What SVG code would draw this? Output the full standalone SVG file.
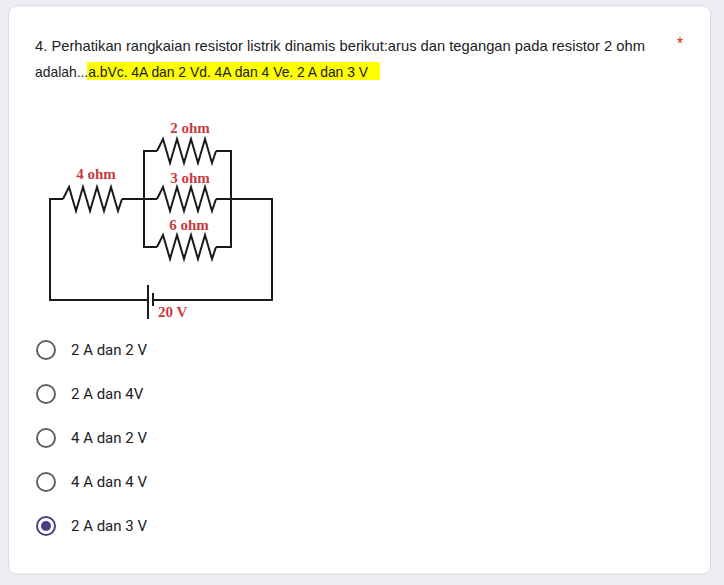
<svg xmlns="http://www.w3.org/2000/svg" xmlns:xlink="http://www.w3.org/1999/xlink" width="724" height="585" viewBox="0 0 724 585">
<style>
.q{font-family:"Liberation Sans",Arial,sans-serif;font-size:14.5px;fill:#202124}
.opt{font-family:Roboto,"Liberation Sans",sans-serif;font-size:15px;fill:#202124}
.lbl{font-family:"Liberation Serif","Times New Roman",serif;font-weight:bold;font-size:15px;fill:#c73a40}
.w{fill:none;stroke:#1a1a1a;stroke-width:2;stroke-linejoin:miter}
.radio{fill:none;stroke:#5f6368;stroke-width:2}
</style>
<defs>
<path id="zz" d="M0,0 l6,-12 l7,24 l7,-24 l7,24 l7,-24 l7,24 l7,-24 l7,24 l4,-12" class="w"/>
</defs>
<rect x="0" y="0" width="724" height="585" fill="#eeecf3"/>
<rect x="8.5" y="6" width="702" height="568" rx="8" fill="#ffffff" stroke="#dadce0" stroke-width="1"/>

<g id="question">
<text class="q" x="35" y="51" textLength="610" lengthAdjust="spacingAndGlyphs">4. Perhatikan rangkaian resistor listrik dinamis berikut:arus dan tegangan pada resistor 2 ohm</text>
<rect x="87" y="62" width="293" height="18" fill="#ffff00"/>
<text class="q" x="35" y="77" textLength="333" lengthAdjust="spacingAndGlyphs">adalah...a.bVc. 4A dan 2 Vd. 4A dan 4 Ve. 2 A dan 3 V</text>
<text x="677" y="48" font-family="Roboto,'Liberation Sans',sans-serif" font-size="14" fill="#d93025">*</text>
</g>

<g id="circuit">
<g id="connectors">
<polyline class="w" points="63,199 50,199 50,300 148,300"/>
<polyline class="w" points="153,300 272,300 272,199 216,199"/>
<line class="w" x1="122" y1="199" x2="157" y2="199"/>
<polyline class="w" points="157,151 144,151 144,247 157,247"/>
<polyline class="w" points="216,151 231,151 231,247 216,247"/>
</g>
<g id="r4"><use xlink:href="#zz" transform="translate(63,199)"/><text class="lbl" x="96" y="179" text-anchor="middle">4 ohm</text></g>
<g id="r2"><use xlink:href="#zz" transform="translate(157,151)"/><text class="lbl" x="190" y="133" text-anchor="middle">2 ohm</text></g>
<g id="r3"><use xlink:href="#zz" transform="translate(157,199)"/><text class="lbl" x="190" y="183" text-anchor="middle">3 ohm</text></g>
<g id="r6"><use xlink:href="#zz" transform="translate(157,247)"/><text class="lbl" x="189" y="230" text-anchor="middle">6 ohm</text></g>
<g id="battery">
<line class="w" x1="148" y1="285" x2="148" y2="319"/>
<line class="w" x1="153" y1="293" x2="153" y2="306"/>
<text class="lbl" x="158" y="317" font-size="14">20 V</text>
</g>
</g>

<g id="opt1"><circle class="radio" cx="46" cy="350" r="9"/><text class="opt" x="71" y="355">2 A dan 2 V</text></g>
<g id="opt2"><circle class="radio" cx="46" cy="394" r="9"/><text class="opt" x="71" y="399">2 A dan 4V</text></g>
<g id="opt3"><circle class="radio" cx="46" cy="438" r="9"/><text class="opt" x="71" y="443">4 A dan 2 V</text></g>
<g id="opt4"><circle class="radio" cx="46" cy="482" r="9"/><text class="opt" x="71" y="487">4 A dan 4 V</text></g>
<g id="opt5"><circle cx="46" cy="526" r="9" fill="none" stroke="#4b3d86" stroke-width="2"/><circle cx="46" cy="526" r="5" fill="#4b3d86"/><text class="opt" x="71" y="531">2 A dan 3 V</text></g>
</svg>
